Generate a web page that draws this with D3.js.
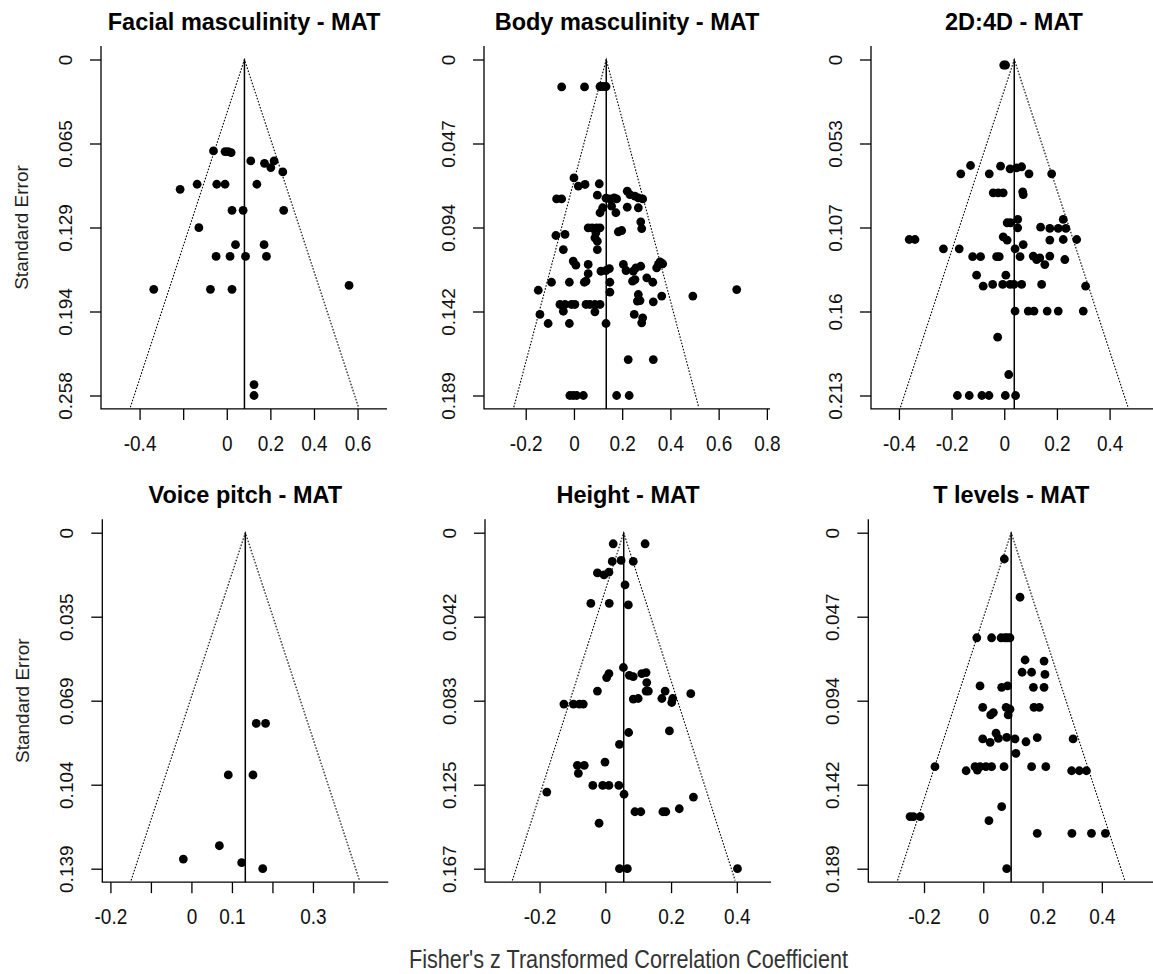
<!DOCTYPE html>
<html>
<head>
<meta charset="utf-8">
<script src="https://cdn.jsdelivr.net/npm/d3@7"></script>
<style>
  html, body { margin: 0; padding: 0; background: #fff; }
  svg { display: block; font-family: "Liberation Sans", Arial, sans-serif; }
</style>
</head>
<body>
<svg id="chart" width="1153" height="974"></svg>
<script>
// ---------------- data ----------------
const panelTitles = ["Facial masculinity - MAT", "Body masculinity - MAT", "2D:4D - MAT",
                     "Voice pitch - MAT", "Height - MAT", "T levels - MAT"];
const seMax = [0.258, 0.189, 0.213, 0.139, 0.167, 0.189];
const yTickLabels = [
  ["0", "0.065", "0.129", "0.194", "0.258"],
  ["0", "0.047", "0.094", "0.142", "0.189"],
  ["0", "0.053", "0.107", "0.16", "0.213"],
  ["0", "0.035", "0.069", "0.104", "0.139"],
  ["0", "0.042", "0.083", "0.125", "0.167"],
  ["0", "0.047", "0.094", "0.142", "0.189"]
];
const estimates = [0.081, 0.134, 0.038, 0.133, 0.056, 0.094];
const xLimits = [[-0.577, 0.735], [-0.373, 0.813], [-0.506, 0.580],
                 [-0.220, 0.486], [-0.366, 0.504], [-0.388, 0.577]];
const xTicks = [
  [-0.4, -0.2, 0, 0.2, 0.4, 0.6],
  [-0.2, 0, 0.2, 0.4, 0.6, 0.8],
  [-0.4, -0.2, 0, 0.2, 0.4],
  [-0.2, -0.1, 0, 0.1, 0.2, 0.3, 0.4],
  [-0.2, 0, 0.2, 0.4],
  [-0.2, 0, 0.2, 0.4]
];
const xTickLabels = [
  ["-0.4", "", "0", "0.2", "0.4", "0.6"],
  ["-0.2", "0", "0.2", "0.4", "0.6", "0.8"],
  ["-0.4", "-0.2", "0", "0.2", "0.4"],
  ["-0.2", "", "0", "0.1", "", "0.3", ""],
  ["-0.2", "0", "0.2", "0.4"],
  ["-0.2", "0", "0.2", "0.4"]
];
const yLabel = "Standard Error";
const xLabel = "Fisher's z Transformed Correlation Coefficient";

// [Fisher's z, standard error]
const facialPoints = [
  [-0.061,0.0702],[-0.008,0.0707],[0.006,0.0707],[0.020,0.0715],
  [0.110,0.0779],[0.173,0.0797],[0.217,0.0779],[0.202,0.0830],[0.257,0.0863],
  [-0.214,0.0997],[-0.136,0.0958],[-0.046,0.0958],[-0.008,0.0958],[0.138,0.0958],
  [0.024,0.1158],[0.075,0.1158],[0.261,0.1158],
  [-0.128,0.1291],
  [0.040,0.1422],[0.171,0.1422],
  [-0.049,0.1512],[0.015,0.1512],[0.086,0.1512],[0.182,0.1512],
  [-0.335,0.1765],[-0.075,0.1765],[0.024,0.1765],[0.561,0.1735],
  [0.125,0.2496],[0.125,0.258]
];
const bodyPoints = [
  [-0.051,0.0154],[0.044,0.0154],[0.108,0.0152],[0.120,0.0152],[0.133,0.0152],
  [0.0,0.0666],
  [0.018,0.0712],[0.046,0.0703],[0.105,0.0699],
  [-0.072,0.0784],[-0.051,0.0784],
  [0.097,0.0763],
  [0.133,0.078],[0.149,0.0784],[0.167,0.0778],[0.177,0.0784],
  [0.221,0.0741],[0.232,0.076],[0.253,0.0769],[0.267,0.0778],[0.285,0.0784],
  [0.119,0.0834],[0.156,0.0825],[0.174,0.0862],[0.108,0.0862],[0.221,0.0831],[0.267,0.0834],
  [0.277,0.0913],[0.281,0.0951],
  [0.059,0.0947],[0.075,0.0947],[0.094,0.0947],[0.108,0.0947],
  [0.091,0.0975],[0.087,0.1003],[0.097,0.1022],
  [0.184,0.0969],[0.198,0.0962],
  [-0.075,0.0990],[-0.037,0.0984],
  [-0.044,0.1069],[0.097,0.1069],
  [-0.003,0.1134],[0.008,0.1157],
  [0.059,0.1153],[0.059,0.1205],[0.050,0.1247],
  [0.112,0.1191],[0.133,0.1187],[0.147,0.1176],
  [0.205,0.1153],[0.216,0.1187],
  [0.246,0.1191],[0.257,0.1172],[0.277,0.1163],
  [0.243,0.1247],[0.253,0.1238],
  [0.302,0.1228],[0.327,0.1253],
  [0.350,0.1153],[0.357,0.1138],[0.368,0.1149],[0.343,0.1172],
  [-0.093,0.1253],[-0.019,0.1253],[0.043,0.1253],[0.149,0.1253],[0.149,0.1309],
  [-0.148,0.1298],
  [0.493,0.1331],[0.675,0.1294],
  [0.267,0.1322],[0.263,0.1359],[0.274,0.1356],
  [0.329,0.1363],[0.364,0.1331],
  [-0.058,0.1378],[-0.037,0.1378],[-0.010,0.1378],[0.004,0.1378],[0.050,0.1378],[0.066,0.1378],[0.087,0.1378],[0.108,0.1378],
  [-0.044,0.1416],[0.087,0.1419],
  [-0.141,0.1434],[0.250,0.1434],
  [0.285,0.1453],[0.281,0.1481],
  [-0.107,0.1485],[-0.019,0.1485],[0.133,0.1485],
  [0.225,0.1688],[0.329,0.1688],
  [-0.017,0.189],[-0.003,0.189],[0.011,0.189],[0.039,0.189],[0.177,0.189],[0.229,0.189]
];
const digitRatioPoints = [
  [-0.002,0.0035],[0.005,0.0035],
  [-0.128,0.0672],[-0.165,0.0725],[-0.057,0.0725],[-0.014,0.0676],[0.022,0.0693],[0.047,0.0687],[0.066,0.068],[0.094,0.0725],[0.180,0.0725],
  [-0.042,0.0845],[-0.023,0.0845],[-0.004,0.0845],[0.070,0.0839],[0.072,0.0856],
  [0.011,0.1035],[0.024,0.1035],[0.051,0.1014],[0.051,0.1067],[0.138,0.1063],[0.173,0.1071],[0.205,0.1071],[0.234,0.1071],[0.224,0.1014],
  [-0.004,0.1124],[0.011,0.1145],[0.072,0.1173],[0.173,0.1145],[0.224,0.1141],[0.275,0.1141],[0.041,0.120],[-0.231,0.120],[-0.171,0.120],
  [-0.361,0.1141],[-0.339,0.1141],
  [-0.120,0.125],[-0.090,0.125],[-0.029,0.125],[-0.019,0.125],[0.060,0.125],
  [0.110,0.1246],[0.123,0.1268],[0.135,0.1258],[0.154,0.130],[0.173,0.1246],[0.230,0.1268],
  [-0.105,0.1367],[0.006,0.1367],
  [-0.080,0.1437],[-0.044,0.1426],[-0.006,0.1426],[0.022,0.1426],[0.037,0.1426],[0.066,0.1426],[0.142,0.1426],[0.309,0.1437],
  [0.041,0.1595],[0.091,0.1595],[0.113,0.1595],[0.163,0.1595],[0.205,0.1595],[0.300,0.1595],
  [-0.025,0.176],[0.017,0.1997],
  [-0.178,0.213],[-0.133,0.213],[-0.085,0.213],[-0.058,0.213],[0.004,0.213],[0.043,0.213]
];
const voicePoints = [
  [0.160,0.0789],[0.183,0.0789],[0.091,0.1002],[0.152,0.1002],
  [0.069,0.1295],[-0.020,0.135],[0.124,0.1365],[0.176,0.139]
];
const heightPoints = [
  [0.024,0.0055],[0.121,0.0055],
  [0.021,0.0143],[0.048,0.0138],[0.085,0.0143],
  [-0.024,0.020],[-0.004,0.021],[0.011,0.0196],
  [0.060,0.0259],
  [-0.044,0.0351],[0.012,0.0351],[0.070,0.0359],
  [0.055,0.067],
  [0.004,0.072],[0.011,0.070],
  [0.073,0.0709],[0.085,0.0715],
  [0.111,0.070],[0.124,0.0695],
  [0.126,0.0745],
  [0.124,0.0787],[0.131,0.0787],
  [-0.024,0.0787],[0.182,0.0787],[0.260,0.080],
  [0.172,0.0824],[0.205,0.0824],[0.202,0.0844],
  [0.085,0.0827],[0.100,0.0824],
  [-0.126,0.0852],[-0.097,0.0852],[-0.079,0.0852],[-0.067,0.0852],
  [0.071,0.0993],[0.195,0.0985],
  [0.043,0.1052],
  [-0.085,0.1156],[-0.064,0.1156],[-0.082,0.1196],
  [-0.001,0.114],
  [-0.038,0.1256],[-0.008,0.1256],[0.011,0.1256],[0.041,0.1256],
  [-0.178,0.1289],[0.057,0.130],[0.268,0.1314],
  [0.090,0.1387],[0.108,0.1387],[0.175,0.1387],[0.184,0.1387],[0.225,0.1372],
  [-0.019,0.1444],
  [0.043,0.167],[0.067,0.167],[0.402,0.167]
];
const testosteronePoints = [
  [0.071,0.0148],[0.124,0.0363],
  [-0.022,0.0591],[0.028,0.0591],[0.060,0.0591],[0.073,0.0591],[0.081,0.0591],[0.090,0.0591],
  [0.141,0.0716],[0.205,0.0722],
  [0.131,0.0785],[0.163,0.0785],[0.208,0.0797],
  [-0.011,0.0862],[0.062,0.087],[0.082,0.0862],[0.169,0.087],[0.205,0.087],
  [-0.002,0.0982],[0.025,0.1025],[0.034,0.1012],[0.077,0.0982],[0.090,0.0993],[0.084,0.1025],[0.171,0.0982],[0.189,0.0982],
  [0.043,0.1128],[-0.002,0.116],[0.023,0.1179],[0.051,0.1157],[0.079,0.1151],[0.107,0.116],[0.144,0.1176],[0.182,0.1153],[0.303,0.116],
  [0.110,0.1241],
  [-0.163,0.1316],[-0.058,0.1339],[-0.028,0.1316],[-0.020,0.1335],[-0.011,0.1316],[0.009,0.1316],[0.028,0.1316],[0.070,0.1316],[0.163,0.1316],[0.211,0.1316],[0.298,0.1339],[0.324,0.1339],[0.348,0.1339],
  [0.062,0.1541],
  [-0.247,0.1597],[-0.236,0.1597],[-0.213,0.1597],
  [0.019,0.162],
  [0.182,0.1691],[0.299,0.1691],[0.365,0.1691],[0.412,0.1691],
  [0.079,0.189]
];
const panelPoints = [facialPoints, bodyPoints, digitRatioPoints, voicePoints, heightPoints, testosteronePoints];

// ---------------- layout ----------------
const svg = d3.select("#chart");
svg.append("rect").attr("width", 1153).attr("height", 974).attr("fill", "#fff");

const plotW = 286;
const tickSpan = 336;            // pixels from SE=0 to SE=max
const plotH = tickSpan * 1.08;    // R's 4% axis extension each side
const plotLefts = [101, 484, 871, 102.3, 485, 868.3];
const zeroYs = [59.5, 59.5, 59.5, 532.7, 532.7, 532.7];
const font = '"Liberation Sans", Arial, sans-serif';
const xLabStretch = 1.12;

panelTitles.forEach((title, i) => {
  const left = plotLefts[i];
  const top = zeroYs[i] - tickSpan * 0.04;
  const bottom = top + plotH;
  const m = seMax[i];
  const x = d3.scaleLinear().domain(xLimits[i]).range([left, left + plotW]);
  const y = d3.scaleLinear().domain([-0.04 * m, 1.04 * m]).range([top, bottom]);
  const g = svg.append("g");

  // title
  g.append("text")
    .attr("x", left + plotW / 2).attr("y", top - 16)
    .attr("text-anchor", "middle")
    .attr("font-size", 23.5).attr("font-weight", "bold").attr("fill", "#000")
    .text(title);

  // funnel (dotted) from apex at SE=0 to the bottom of the plot
  const est = estimates[i];
  const seBot = 1.035 * m;
  const funnel = [[est - 1.96 * seBot, seBot], [est, 0], [est + 1.96 * seBot, seBot]];
  g.append("path")
    .attr("d", d3.line().x(d => x(d[0])).y(d => y(d[1]))(funnel))
    .attr("fill", "none").attr("stroke", "#000").attr("stroke-width", 1.1)
    .attr("stroke-dasharray", "1.6,1.6");

  // vertical line at estimate
  g.append("line")
    .attr("x1", x(est)).attr("x2", x(est))
    .attr("y1", y(0)).attr("y2", bottom)
    .attr("stroke", "#000").attr("stroke-width", 1.5);

  // points
  g.selectAll("circle.pt").data(panelPoints[i]).join("circle")
    .attr("class", "pt")
    .attr("cx", d => x(d[0])).attr("cy", d => y(d[1]))
    .attr("r", 4.4).attr("fill", "#000");

  // box (L shape)
  g.append("path")
    .attr("d", `M${left},${top}V${bottom}H${left + plotW}`)
    .attr("fill", "none").attr("stroke", "#000").attr("stroke-width", 1.3);

  // x axis ticks
  const xt = xTicks[i];
  const xAxis = d3.axisBottom(x).tickValues(xt).tickSize(11).tickSizeOuter(0)
    .tickFormat((d, k) => xTickLabels[i][k]);
  const xa = g.append("g").attr("transform", `translate(0,${bottom})`).call(xAxis);
  xa.select(".domain").remove();
  xa.selectAll(".tick line").attr("stroke", "#000").attr("stroke-width", 1.3);
  xa.selectAll(".tick text")
    .attr("font-family", font).attr("font-size", 19).attr("fill", "#111")
    .attr("y", 42 / xLabStretch).attr("dy", null)
    .attr("transform", `scale(1,${xLabStretch})`);

  // y axis ticks (labels rotated parallel to axis)
  const yVals = d3.range(5).map(k => m * k / 4);
  const yAxis = d3.axisLeft(y).tickValues(yVals).tickSize(11).tickSizeOuter(0)
    .tickFormat((d, k) => yTickLabels[i][k]);
  const ya = g.append("g").attr("transform", `translate(${left},0)`).call(yAxis);
  ya.select(".domain").remove();
  ya.selectAll(".tick line").attr("stroke", "#000").attr("stroke-width", 1.3);
  ya.selectAll(".tick text")
    .attr("font-family", font).attr("font-size", 19).attr("fill", "#111")
    .attr("x", null).attr("dy", null).attr("y", null)
    .attr("text-anchor", "middle")
    .attr("transform", "translate(-29,0) rotate(-90)");

  // y axis label on left column
  if (i % 3 === 0) {
    g.append("text")
      .attr("transform", `translate(${left - 73},${(top + bottom) / 2}) rotate(-90)`)
      .attr("text-anchor", "middle")
      .attr("font-size", 19).attr("fill", "#222")
      .text(yLabel);
  }
});

// common x label
svg.append("text")
  .attr("x", 409).attr("y", 968)
  .attr("font-size", 25).attr("fill", "#333")
  .attr("textLength", 439).attr("lengthAdjust", "spacingAndGlyphs")
  .text(xLabel);
</script>
</body>
</html>
